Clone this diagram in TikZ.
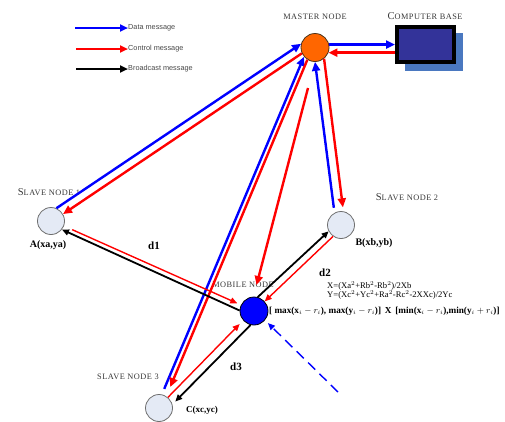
\documentclass[tikz,border=0pt]{standalone}
\usepackage{fontspec}
\setmainfont{Liberation Serif}
\newfontfamily\legfont{Liberation Sans}
\newfontfamily\capfont[LetterSpace=6]{Liberation Serif}
\usetikzlibrary{arrows.meta}

\definecolor{slavefill}{RGB}{228,234,245}
\definecolor{slaveedge}{RGB}{110,110,110}
\definecolor{masterorange}{RGB}{255,102,0}
\definecolor{cbblue}{RGB}{51,51,153}
\definecolor{cbshadow}{RGB}{74,120,192}
\definecolor{labelgray}{RGB}{55,55,55}
\definecolor{legendgray}{RGB}{70,70,70}

% small-capital look built from reduced upper case
\newcommand{\smc}[1]{{\fontsize{8.3}{9}\selectfont #1}}

\begin{document}
\begin{tikzpicture}[x=1pt,y=-1pt,
  slavenode/.style={circle,draw=slaveedge,fill=slavefill,line width=0.8pt,minimum size=27pt,inner sep=0pt},
  masternode/.style={circle,draw=black!60!brown,fill=masterorange,line width=0.8pt,minimum size=28pt,inner sep=0pt},
  mobilenode/.style={circle,draw=black,fill=blue,line width=0.8pt,minimum size=28pt,inner sep=0pt},
  cbox/.style={rectangle,draw=black,fill=cbblue,line width=4pt,minimum width=57pt,minimum height=35pt,inner sep=0pt},
  bigtip/.style={-{Triangle[length=9pt,width=8pt]}},
  smalltip/.style={-{Triangle[length=7pt,width=6pt]}},
  datathick/.style={draw=blue,line width=2.4pt,bigtip},
  ctrlthick/.style={draw=red,line width=2.4pt,bigtip},
  ctrlthin/.style={draw=red,line width=1.4pt,smalltip},
  bcast/.style={draw=black,line width=1.8pt,smalltip},
  datadash/.style={draw=blue,line width=1.4pt,dash pattern=on 10pt off 6pt,smalltip},
  lbl/.style={inner sep=0pt,text=labelgray,font=\capfont\fontsize{10.5}{11}\selectfont},
  coord/.style={inner sep=0pt,text=black,font=\bfseries\fontsize{10}{11}\selectfont},
  dlbl/.style={inner sep=0pt,text=black,font=\bfseries\fontsize{11}{12}\selectfont},
  formula/.style={inner sep=0pt,anchor=west,text=black,font=\fontsize{8.6}{9}\selectfont},
  legtext/.style={inner sep=0pt,anchor=west,text=legendgray,font=\legfont\fontsize{7.3}{8}\selectfont},
  legarrow/.style={line width=2.2pt,-{Triangle[length=8pt,width=7pt]}}]

\useasboundingbox (0,0) rectangle (505,421);

% legend
\node[legtext] (lg1) at (128,28) {Data message};
\node[legtext] (lg2) at (128,49) {Control message};
\node[legtext] (lg3) at (128,69) {Broadcast message};
\coordinate (lgs1) at (75,28);
\coordinate (lgs2) at (76,49);
\coordinate (lgs3) at (76,69);
\draw[legarrow,blue] (lgs1) -- (lg1.west);
\draw[legarrow,red] (lgs2) -- (lg2.west);
\draw[legarrow,black] (lgs3) -- (lg3.west);

% computer base with its shadow
\fill[cbshadow] (405,33) rectangle (463,71);
\node[cbox] (cb) at (425.5,44.5) {};

% nodes
\node[masternode] (mst) at (315,47.5) {};
\node[slavenode] (s1) at (51,221) {};
\node[slavenode] (s2) at (341,225) {};
\node[slavenode] (s3) at (159,408) {};
\node[mobilenode] (mob) at (254,311) {};

% labels
\node[lbl] (lmst) at (315,17) {\smc{MASTER NODE}};
\node[lbl] (lcb) at (425,16) {C\smc{OMPUTER BASE}};
\node[lbl] (ls1) at (49,192) {S\smc{LAVE NODE 1}};
\node[lbl] (ls2) at (407,197) {S\smc{LAVE NODE 2}};
\node[lbl] (ls3) at (128,377) {\smc{SLAVE NODE 3}};
\node[lbl] (lmob) at (243,285) {\smc{MOBILE NODE}};
\node[coord] (ca) at (48,245) {A(xa,ya)};
\node[coord] (cbb) at (374,243) {B(xb,yb)};
\node[coord,font=\bfseries\fontsize{9}{10}\selectfont] (cc) at (202,410) {C(xc,yc)};
\node[dlbl] (d1) at (154,246) {d1};
\node[dlbl] (d2) at (325,273) {d2};
\node[dlbl] (d3) at (236,367) {d3};
\node[formula] (fx) at (327,286) {X=(Xa$^2$+Rb$^2$-Rb$^2$)/2Xb};
\node[formula] (fy) at (327,295) {Y=(Xc$^2$+Yc$^2$+Ra$^2$-Rc$^2$-2XXc)/2Yc};
\node[formula,font=\bfseries\fontsize{9.2}{10}\selectfont] (fr) at (269,311)
  {[ max(x$_i-r_i$), max(y$_i-r_i$)]\, X\, [min(x$_i-r_i$),min(y$_i+r_i$)]};

% master links
\draw[datathick] (s1.67) -- (mst.165);
\draw[ctrlthick] (mst.204) -- (s1.30);
\draw[datathick] (mst.12) -- (mst.12 -| cb.west);
\draw[ctrlthick] (cb.west |- mst.-21) -- (mst.-21);
\draw[datathick,shorten <=5pt] (s2.118) -- (mst.270);
\draw[ctrlthick,shorten >=4pt] (mst.309) -- (s2.80);
\draw[datathick,shorten <=6pt] (s3.78) -- (mst.220);
\draw[ctrlthick,shorten >=10pt] (mst.238) -- (s3.58);
\coordinate (mfree) at (308,88);
\draw[ctrlthick,shorten >=12pt] (mfree) -- (mob.92);

% mobile node links
\draw[bcast] (mob.178) -- (s1.-38);
\draw[ctrlthin,shorten <=9pt,shorten >=4pt] (s1.-21) -- (mob.155);
\draw[bcast] (mob.75) -- (s2.207);
\draw[ctrlthin] (s2.235) -- (mob.42);
\draw[bcast,shorten >=4pt] (mob.256) -- (s3.15);
\draw[ctrlthin,shorten >=5pt] (s3.50) -- (mob.221);
\coordinate (dfree) at (338,392);
\draw[datadash,shorten >=4pt] (dfree) -- (mob.-40);

\end{tikzpicture}
\end{document}
